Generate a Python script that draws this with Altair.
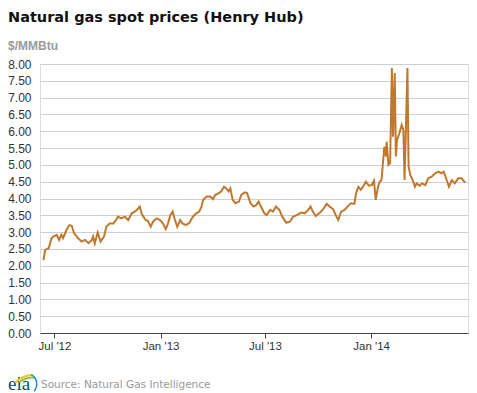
import altair as alt
import pandas as pd

dates = [
    "2012-06-12", "2012-06-15", "2012-06-21", "2012-06-26", "2012-06-29", "2012-07-05", "2012-07-09",
    "2012-07-13", "2012-07-16", "2012-07-22", "2012-07-27", "2012-07-31", "2012-08-04", "2012-08-11",
    "2012-08-17", "2012-08-23", "2012-08-29", "2012-09-04", "2012-09-06", "2012-09-09", "2012-09-14",
    "2012-09-19", "2012-09-25", "2012-09-29", "2012-10-05", "2012-10-11", "2012-10-16", "2012-10-19",
    "2012-10-25", "2012-10-31", "2012-11-06", "2012-11-12", "2012-11-17", "2012-11-21", "2012-11-26",
    "2012-11-29", "2012-12-05", "2012-12-10", "2012-12-15", "2012-12-19", "2012-12-25", "2012-12-31",
    "2013-01-05", "2013-01-10", "2013-01-14", "2013-01-18", "2013-01-22", "2013-01-26", "2013-01-30",
    "2013-02-04", "2013-02-08", "2013-02-14", "2013-02-20", "2013-02-26", "2013-03-04", "2013-03-09",
    "2013-03-13", "2013-03-16", "2013-03-22", "2013-03-28", "2013-04-02", "2013-04-06", "2013-04-12",
    "2013-04-16", "2013-04-21", "2013-04-25", "2013-04-29", "2013-05-02", "2013-05-06", "2013-05-11",
    "2013-05-17", "2013-05-21", "2013-05-27", "2013-05-31", "2013-06-06", "2013-06-11", "2013-06-16",
    "2013-06-20", "2013-06-24", "2013-06-30", "2013-07-04", "2013-07-10", "2013-07-15", "2013-07-20",
    "2013-07-26", "2013-07-31", "2013-08-07", "2013-08-13", "2013-08-19", "2013-08-26", "2013-09-02",
    "2013-09-08", "2013-09-14", "2013-09-18", "2013-09-22", "2013-09-27", "2013-10-03", "2013-10-09",
    "2013-10-16", "2013-10-21", "2013-10-27", "2013-11-02", "2013-11-05", "2013-11-10", "2013-11-16",
    "2013-11-21", "2013-11-27", "2013-12-03", "2013-12-06", "2013-12-10", "2013-12-14", "2013-12-18",
    "2013-12-23", "2013-12-28", "2014-01-02", "2014-01-06", "2014-01-09", "2014-01-13", "2014-01-16",
    "2014-01-19", "2014-01-22", "2014-01-24", "2014-01-27", "2014-01-28", "2014-01-31", "2014-02-03",
    "2014-02-06", "2014-02-08", "2014-02-11", "2014-02-13", "2014-02-15", "2014-02-19", "2014-02-23",
    "2014-02-26", "2014-02-28", "2014-03-02", "2014-03-05", "2014-03-07", "2014-03-10", "2014-03-14",
    "2014-03-18", "2014-03-21", "2014-03-26", "2014-03-30", "2014-04-05", "2014-04-10", "2014-04-16",
    "2014-04-22", "2014-04-28", "2014-05-03", "2014-05-07", "2014-05-12", "2014-05-16", "2014-05-21",
    "2014-05-26", "2014-06-01", "2014-06-07", "2014-06-13",
]

prices = [
    2.17, 2.47, 2.52, 2.82, 2.87, 2.92, 2.77,
    2.92, 2.82, 3.07, 3.21, 3.19, 2.97, 2.82,
    2.72, 2.77, 2.67, 2.77, 2.87, 2.67, 2.99,
    2.72, 2.87, 3.16, 3.26, 3.26, 3.36, 3.46,
    3.41, 3.46, 3.36, 3.56, 3.61, 3.66, 3.76,
    3.56, 3.38, 3.33, 3.16, 3.31, 3.41, 3.36,
    3.26, 3.09, 3.26, 3.51, 3.61, 3.36, 3.16,
    3.36, 3.26, 3.21, 3.28, 3.46, 3.56, 3.61,
    3.76, 3.96, 4.06, 4.06, 3.98, 4.11, 4.16,
    4.21, 4.35, 4.30, 4.21, 4.30, 3.96, 3.86,
    3.91, 4.11, 4.18, 4.16, 3.86, 3.76, 3.81,
    3.91, 3.76, 3.56, 3.51, 3.66, 3.61, 3.76,
    3.66, 3.46, 3.28, 3.31, 3.46, 3.51, 3.58,
    3.56, 3.66, 3.76, 3.61, 3.48, 3.56, 3.66,
    3.84, 3.76, 3.68, 3.46, 3.36, 3.61, 3.66,
    3.76, 3.86, 3.84, 4.16, 4.35, 4.26, 4.35,
    4.50, 4.38, 4.40, 4.53, 3.96, 4.35, 4.50,
    4.55, 5.15, 5.54, 5.25, 5.69, 5.00, 5.05,
    7.88, 5.84, 7.73, 5.25, 5.74, 5.94, 6.19,
    6.04, 4.55, 5.84, 7.88, 4.95, 4.70, 4.55,
    4.35, 4.45, 4.38, 4.45, 4.40, 4.60, 4.65,
    4.75, 4.80, 4.75, 4.80, 4.55, 4.35, 4.55,
    4.45, 4.60, 4.60, 4.47,
]

y_ticks = [i * 0.5 for i in range(17)]
x_ticks = [(2012, 7), (2013, 1), (2013, 7), (2014, 1)]

title_text = "Natural gas spot prices (Henry Hub)"
unit_text = "$/MMBtu"
source_text = "Source: Natural Gas Intelligence"
logo_text = "eia"

df = pd.DataFrame({"date": dates, "price": prices})

W, H = 428, 269
FONT = "Liberation Sans"

x_enc = alt.X(
    "date:T",
    scale=alt.Scale(
        type="utc",
        domain=[
            alt.DateTime(year=2012, month=6, date=6, utc=True),
            alt.DateTime(year=2014, month=6, date=18, utc=True),
        ],
    ),
    axis=alt.Axis(
        values=[alt.DateTime(year=yy, month=mm, date=1, utc=True) for yy, mm in x_ticks],
        format="%b '%y",
        title=None,
        grid=False,
        domainColor="#444444",
        tickColor="#444444",
        tickSize=5,
        labelPadding=2,
        labelFont=FONT,
        labelFontSize=11.5,
        labelColor="#333333",
    ),
)

y_enc = alt.Y(
    "price:Q",
    scale=alt.Scale(domain=[0, 8], nice=False),
    axis=alt.Axis(
        values=y_ticks,
        format=".2f",
        title=None,
        domain=False,
        ticks=False,
        labelPadding=9,
        gridColor="#cfcfcf",
        gridWidth=1,
        labelFont=FONT,
        labelFontSize=12,
        labelColor="#333333",
    ),
)

line = alt.Chart(df).mark_line(color="#c0782f", strokeWidth=2, clip=True).encode(x=x_enc, y=y_enc)


def text_layer(txt, px, py, size, color, weight="normal", font=FONT):
    return alt.Chart(pd.DataFrame({"t": [txt]})).mark_text(
        align="left", baseline="alphabetic", font=font, fontSize=size,
        fontWeight=weight, color=color,
    ).encode(x=alt.value(px), y=alt.value(py), text="t:N")


title = text_layer(title_text, -32, -42, 14.5, "#111111", "bold", "DejaVu Sans")
unit = text_layer(unit_text, -32, -14, 12, "#9a9a9a", "bold")
source = text_layer(source_text, 1, 324, 10.5, "#999999", "normal", "DejaVu Sans")
logo = text_layer(logo_text, -32, 326, 19, "#0d4a7e", "normal", "Liberation Serif")


def arc_layer(cx, cy, r1, r2, t1, t2, color):
    return alt.Chart(pd.DataFrame({"a": [0]})).mark_arc(color=color).encode(
        x=alt.value(cx), y=alt.value(cy),
        theta=alt.value(t1), theta2=alt.value(t2),
        radius=alt.value(r2), radius2=alt.value(r1),
    )


arc_y = arc_layer(-7, 335, 23, 25, 5.45, 6.3, "#f2c230")
arc_g = arc_layer(-7, 335, 20.5, 22.5, 5.6, 6.4, "#8cc63f")
arc_b = arc_layer(-14, 320, 10, 11.5, 0.5, 2.3, "#2a8fd0")

chart = alt.layer(line, title, unit, source, logo, arc_y, arc_g, arc_b).properties(
    width=W, height=H,
    autosize=alt.AutoSizeParams(type="none"),
    padding={"left": 32, "top": 56, "right": 1, "bottom": 60},
).configure_view(stroke=None).configure(background="white")

chart.save("out.html", embed_options={"renderer": "svg", "actions": False})
